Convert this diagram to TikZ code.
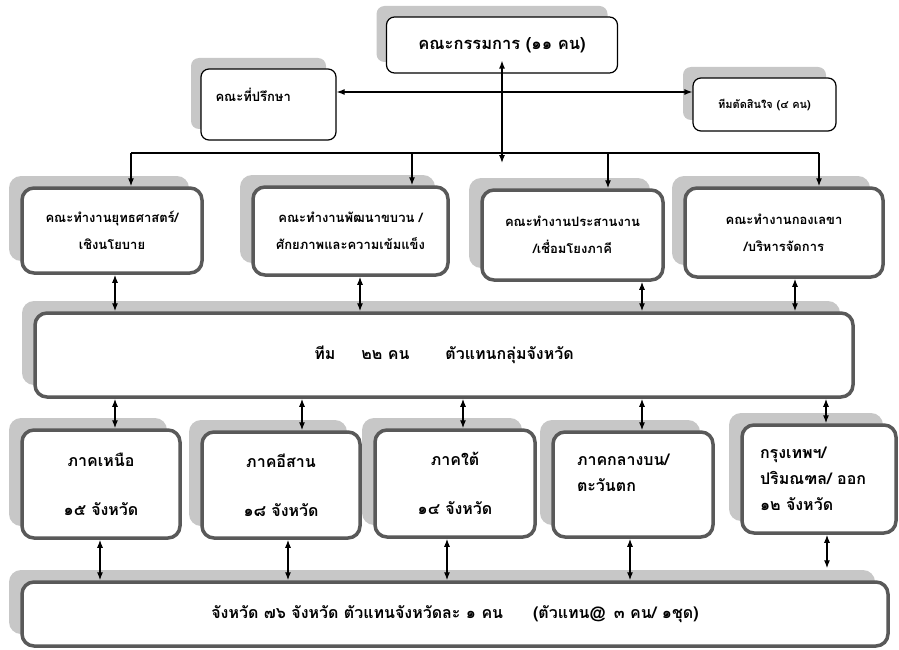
\documentclass[tikz,border=0pt]{standalone}
\usepackage{fontspec}
\setmainfont[Script=Thai]{Loma}
\usetikzlibrary{shadows,arrows.meta}

\tikzset{
  topbox/.style={draw=black, line width=1.2pt, rounded corners=8pt, fill=white,
    drop shadow={shadow xshift=-10pt, shadow yshift=11pt, fill=black!22, opacity=1}},
  grpbox/.style={draw=black!65, line width=3.5pt, rounded corners=12pt, fill=white, align=center,
    drop shadow={shadow xshift=-13pt, shadow yshift=12pt, fill=black!22, opacity=1}},
  wgfont/.style={font=\bfseries\fontsize{13}{16}\selectfont},
  regfont/.style={font=\bfseries\fontsize{16}{20}\selectfont},
  link/.style={<->, line width=1.2pt},
  down/.style={->, line width=1.2pt}
}

\begin{document}
\begin{tikzpicture}[x=1pt,y=-1pt,>={Latex[length=8pt,width=6pt]}]
  \useasboundingbox (0,0) rectangle (899,650);
  \def\busY{153}

  \node[topbox, minimum width=231pt, minimum height=56pt, font=\bfseries\fontsize{16.5}{19}\selectfont] (board) at (502,45) {คณะกรรมการ (๑๑ คน)};
  \node[topbox, minimum width=135pt, minimum height=71pt] (advisor) at (268.5,104.5) {};
  \node[anchor=west, font=\bfseries\fontsize{13}{15}\selectfont] (advisortxt) at (212,95) {คณะที่ปรึกษา};
  \node[topbox, minimum width=143pt, minimum height=53pt, font=\bfseries\fontsize{11}{13}\selectfont] (decision) at (764.5,104.5) {ทีมตัดสินใจ (๔ คน)};

  \node[grpbox, wgfont, minimum width=180pt, minimum height=85pt] (strategy) at (112,230.5) {คณะทำงานยุทธศาสตร์/\\[11pt]เชิงนโยบาย};
  \node[grpbox, wgfont, minimum width=195pt, minimum height=88pt] (capacity) at (350.5,231) {คณะทำงานพัฒนาขบวน /\\[11pt]ศักยภาพและความเข้มแข็ง};
  \node[grpbox, wgfont, minimum width=181pt, minimum height=90pt] (network) at (572.5,235) {คณะทำงานประสานงาน\\[11pt]/เชื่อมโยงภาคี};
  \node[grpbox, wgfont, minimum width=198pt, minimum height=89pt] (secretariat) at (784,232.5) {คณะทำงานกองเลขา\\[11pt]/บริหารจัดการ};

  \node[grpbox, minimum width=818pt, minimum height=84pt, font=\bfseries\fontsize{16}{19}\selectfont] (team) at (444,355) {ทีม\hspace{26pt}๒๒ คน\hspace{36pt}ตัวแทนกลุ่มจังหวัด};

  \node[grpbox, regfont, minimum width=158pt, minimum height=108pt] (north) at (101,484) {ภาคเหนือ\\[29pt]๑๕ จังหวัด};
  \node[grpbox, regfont, minimum width=158pt, minimum height=106pt] (isan) at (281,485) {ภาคอีสาน\\[29pt]๑๘ จังหวัด};
  \node[grpbox, regfont, minimum width=160pt, minimum height=107pt] (south) at (455,483.5) {ภาคใต้\\[29pt]๑๔ จังหวัด};
  \node[grpbox, regfont, align=left, text width=112pt, minimum width=160pt, minimum height=105pt] (central) at (633,484.5) {ภาคกลางบน/\\[6pt]ตะวันตก\\[4pt]\mbox{}};
  \node[grpbox, regfont, align=left, text width=118pt, minimum width=154pt, minimum height=108pt] (bkk) at (819,479) {กรุงเทพฯ/\\[6pt]ปริมณฑล/ ออก\\[6pt]๑๒ จังหวัด};

  \node[grpbox, minimum width=866pt, minimum height=64pt, font=\bfseries\fontsize{16}{19}\selectfont] (province) at (455,614) {จังหวัด ๗๖ จังหวัด ตัวแทนจังหวัดละ ๑ คน\hspace{30pt}(ตัวแทน@\hspace{8pt}๓ คน/ ๑ชุด)};

  \coordinate (axis) at (502,92);
  \draw[link] (axis -| advisor.east) -- (axis -| decision.west);
  \coordinate (hub) at (502,163);
  \draw[link] ([yshift=13pt]board.south) -- (hub);

  \draw[line width=1.2pt] (131,\busY) -- (819,\busY);
  \foreach \x/\n in {131/strategy,412/capacity,608/network,819/secretariat} {
    \coordinate (p) at (\x,\busY);
    \draw[down] (p) -- (p |- \n.north);
  }
  \foreach \x/\n in {115/strategy,360/capacity,642/network,795/secretariat} {
    \coordinate (p) at (\x,0);
    \draw[link] (p |- \n.south) -- (p |- team.north);
  }
  \foreach \x/\n in {115/north,302/isan,463/south,642/central,826/bkk} {
    \coordinate (p) at (\x,0);
    \draw[link] (p |- team.south) -- (p |- \n.north);
  }
  \foreach \x/\n in {100/north,288/isan,447/south,630/central} {
    \coordinate (p) at (\x,0);
    \draw[link] (p |- \n.south) -- (p |- province.north);
  }
  \coordinate (p) at (827,0);
  \coordinate (q) at ([yshift=12pt]province.north);
  \draw[link] (p |- bkk.south) -- (p |- q);
\end{tikzpicture}
\end{document}
